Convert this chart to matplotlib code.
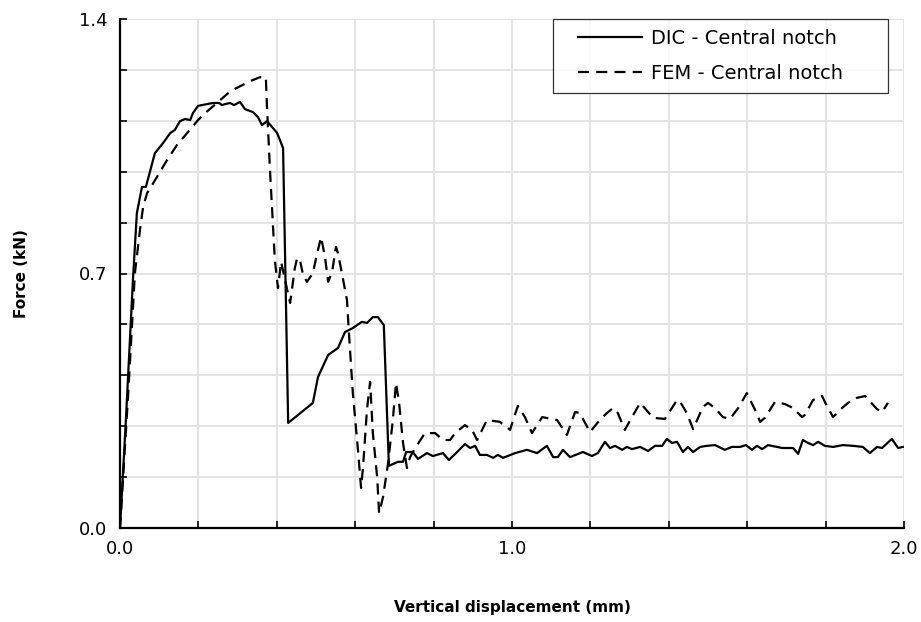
import matplotlib
matplotlib.use("Agg")
import matplotlib.pyplot as plt
from matplotlib.lines import Line2D
from matplotlib.legend_handler import HandlerLine2D
from matplotlib.ticker import MultipleLocator

plt.rcParams['font.family'] = ['DejaVu Sans']

# Force–displacement response, central notch specimen
dic_disp = [0.000, 0.015, 0.033, 0.043, 0.056, 0.066, 0.089, 0.110, 0.128, 0.140,
            0.153, 0.166, 0.179, 0.186, 0.199, 0.222, 0.237, 0.253, 0.260, 0.268,
            0.281, 0.291, 0.306, 0.319, 0.339, 0.352, 0.362, 0.375, 0.388, 0.401,
            0.416, 0.429, 0.492, 0.505, 0.531, 0.556, 0.574, 0.594, 0.617, 0.630,
            0.645, 0.658, 0.673, 0.686, 0.709, 0.722, 0.730, 0.747, 0.760, 0.783,
            0.798, 0.824, 0.839, 0.860, 0.880, 0.893, 0.906, 0.918, 0.936, 0.952,
            0.964, 0.977, 1.008, 1.038, 1.064, 1.089, 1.105, 1.117, 1.130, 1.148,
            1.181, 1.204, 1.219, 1.237, 1.250, 1.263, 1.281, 1.293, 1.306, 1.327,
            1.347, 1.365, 1.383, 1.395, 1.408, 1.421, 1.436, 1.449, 1.462, 1.480,
            1.497, 1.518, 1.543, 1.561, 1.582, 1.597, 1.612, 1.625, 1.638, 1.653,
            1.676, 1.689, 1.717, 1.730, 1.742, 1.755, 1.768, 1.781, 1.798, 1.819,
            1.844, 1.870, 1.895, 1.913, 1.931, 1.944, 1.969, 1.985, 1.997]
dic_force = [0.000, 0.297, 0.682, 0.866, 0.938, 0.938, 1.031, 1.059, 1.086, 1.095,
             1.119, 1.125, 1.122, 1.141, 1.161, 1.166, 1.169, 1.169, 1.163, 1.166,
             1.169, 1.163, 1.172, 1.152, 1.144, 1.130, 1.108, 1.119, 1.103, 1.086,
             1.045, 0.289, 0.344, 0.415, 0.476, 0.495, 0.539, 0.550, 0.567, 0.564,
             0.580, 0.580, 0.558, 0.171, 0.182, 0.182, 0.209, 0.209, 0.190, 0.206,
             0.198, 0.206, 0.187, 0.209, 0.231, 0.220, 0.226, 0.201, 0.201, 0.193,
             0.201, 0.193, 0.206, 0.215, 0.206, 0.226, 0.195, 0.195, 0.215, 0.195,
             0.209, 0.198, 0.206, 0.237, 0.220, 0.226, 0.215, 0.223, 0.217, 0.223,
             0.212, 0.226, 0.226, 0.245, 0.234, 0.237, 0.209, 0.223, 0.209, 0.223,
             0.226, 0.228, 0.215, 0.223, 0.223, 0.228, 0.215, 0.226, 0.217, 0.228,
             0.223, 0.220, 0.220, 0.204, 0.242, 0.234, 0.228, 0.237, 0.226, 0.223,
             0.228, 0.226, 0.223, 0.206, 0.223, 0.220, 0.245, 0.220, 0.223]

fem_disp = [0.000, 0.020, 0.038, 0.051, 0.059, 0.069, 0.094, 0.120, 0.145, 0.171,
            0.199, 0.217, 0.247, 0.276, 0.288, 0.332, 0.357, 0.372, 0.375, 0.383,
            0.395, 0.403, 0.411, 0.421, 0.434, 0.446, 0.452, 0.459, 0.467, 0.477,
            0.492, 0.503, 0.513, 0.523, 0.531, 0.541, 0.551, 0.556, 0.566, 0.579,
            0.584, 0.594, 0.607, 0.615, 0.620, 0.630, 0.638, 0.645, 0.656, 0.661,
            0.671, 0.684, 0.696, 0.704, 0.712, 0.722, 0.732, 0.740, 0.753, 0.778,
            0.804, 0.824, 0.842, 0.855, 0.880, 0.898, 0.911, 0.936, 0.969, 0.995,
            1.015, 1.033, 1.051, 1.077, 1.115, 1.140, 1.161, 1.173, 1.199, 1.224,
            1.242, 1.258, 1.270, 1.288, 1.306, 1.327, 1.360, 1.390, 1.421, 1.429,
            1.446, 1.462, 1.487, 1.500, 1.518, 1.538, 1.556, 1.577, 1.599, 1.620,
            1.633, 1.645, 1.671, 1.696, 1.717, 1.740, 1.747, 1.768, 1.791, 1.798,
            1.819, 1.842, 1.857, 1.880, 1.901, 1.931, 1.944, 1.959]
fem_force = [0.000, 0.352, 0.701, 0.820, 0.883, 0.921, 0.965, 1.012, 1.053, 1.086,
             1.122, 1.141, 1.169, 1.196, 1.205, 1.229, 1.240, 1.240, 1.158, 0.976,
             0.737, 0.660, 0.732, 0.682, 0.619, 0.715, 0.743, 0.737, 0.696, 0.677,
             0.701, 0.756, 0.800, 0.745, 0.677, 0.704, 0.773, 0.756, 0.701, 0.627,
             0.536, 0.371, 0.215, 0.110, 0.168, 0.325, 0.402, 0.261, 0.140, 0.041,
             0.085, 0.179, 0.297, 0.399, 0.344, 0.234, 0.165, 0.195, 0.220, 0.261,
             0.261, 0.242, 0.242, 0.261, 0.283, 0.270, 0.242, 0.297, 0.292, 0.270,
             0.336, 0.305, 0.261, 0.305, 0.297, 0.256, 0.319, 0.316, 0.264, 0.297,
             0.316, 0.330, 0.316, 0.270, 0.305, 0.344, 0.303, 0.300, 0.352, 0.347,
             0.316, 0.272, 0.333, 0.344, 0.330, 0.305, 0.300, 0.330, 0.371, 0.325,
             0.292, 0.303, 0.347, 0.341, 0.330, 0.305, 0.311, 0.352, 0.363, 0.347,
             0.305, 0.330, 0.344, 0.358, 0.363, 0.327, 0.319, 0.344]

x_ticks = [0.0, 1.0, 2.0]
x_tick_labels = ["0.0", "1.0", "2.0"]
y_ticks = [0.0, 0.7, 1.4]
y_tick_labels = ["0.0", "0.7", "1.4"]


class InsetLineHandler(HandlerLine2D):
    """Legend line sample that leaves a blank margin on its left side."""

    def __init__(self, left_margin=0.8, **kw):
        super().__init__(**kw)
        self.left_margin = left_margin

    def get_xdata(self, legend, xdescent, ydescent, width, height, fontsize):
        x0 = -xdescent + self.left_margin * fontsize
        x1 = -xdescent + width
        return [x0, x1], [x0, x1]


fig = plt.figure(figsize=(9.21, 6.22), dpi=100)
ax = fig.add_axes([120 / 921, 1 - 528 / 622, 784 / 921, 509 / 622])

ax.plot(dic_disp, dic_force, color="black", lw=1.6, label="DIC - Central notch",
        zorder=3)
ax.plot(fem_disp, fem_force, color="black", lw=1.6, ls=(0, (5, 3.2)),
        label="FEM - Central notch", zorder=3)

ax.set_xlim(0, 2.0)
ax.set_ylim(0, 1.4)
ax.set_xticks(x_ticks)
ax.set_xticklabels(x_tick_labels)
ax.set_yticks(y_ticks)
ax.set_yticklabels(y_tick_labels)
ax.xaxis.set_minor_locator(MultipleLocator(0.2))
ax.yaxis.set_minor_locator(MultipleLocator(0.14))

ax.grid(True, which="both", color="#e4e4e4", lw=1.4, zorder=0)
ax.set_axisbelow(True)

for side in ("top", "right"):
    ax.spines[side].set_visible(False)
for side in ("left", "bottom"):
    ax.spines[side].set_linewidth(1.6)
    ax.spines[side].set_color("black")

ax.tick_params(which="both", direction="in", length=5, width=1.2, color="black")
ax.tick_params(which="major", labelsize=13, pad=9)

ax.set_xlabel("Vertical displacement (mm)", fontsize=11, fontweight="bold",
              labelpad=30)
ax.set_ylabel("Force (kN)", fontsize=11, fontweight="bold", labelpad=36)

leg = ax.legend(loc="upper left", bbox_to_anchor=(0.552, 0.0, 0.428, 1.0),
                mode="expand", fontsize=14, frameon=True, fancybox=False,
                edgecolor="black", handlelength=4.1, handletextpad=0.45,
                borderpad=0.5, labelspacing=0.85, borderaxespad=0,
                handler_map={Line2D: InsetLineHandler(left_margin=0.8)})
leg.get_frame().set_linewidth(0.9)

fig.savefig("out.png", dpi=100)
